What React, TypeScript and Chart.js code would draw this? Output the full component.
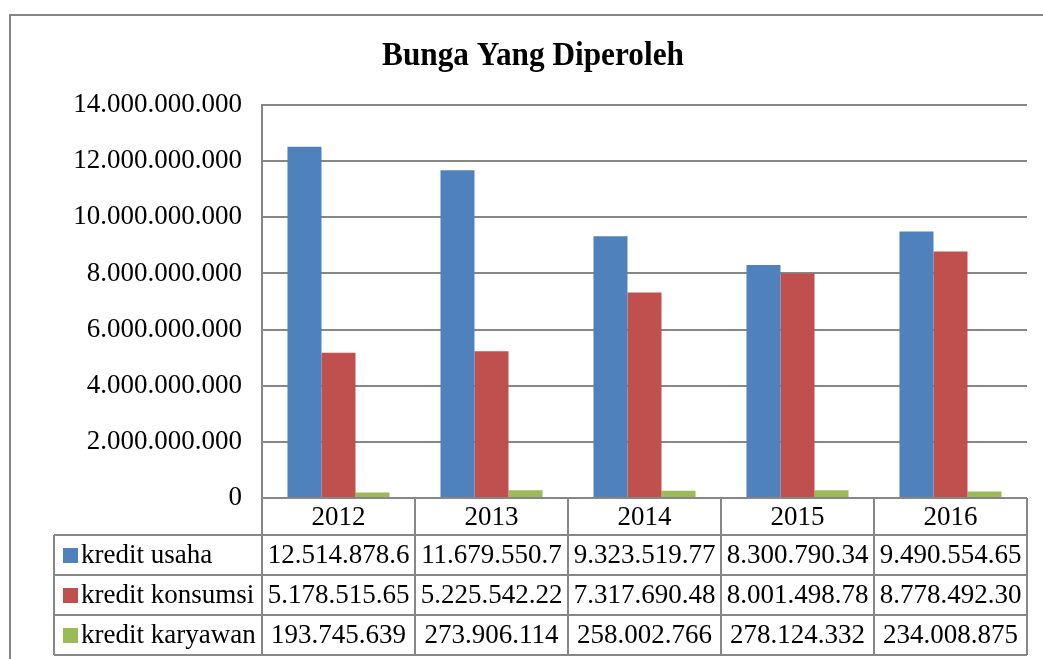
import React, { useEffect, useRef } from "react";
import { Chart, registerables } from "chart.js";

Chart.register(...registerables);

const categories = ["2012", "2013", "2014", "2015", "2016"];
const seriesNames = ["kredit usaha", "kredit konsumsi", "kredit karyawan"];
const seriesColors = ["#4F81BD", "#C0504D", "#9BBB59"];

const kreditUsaha = [12514878600, 11679550700, 9323519770, 8300790340, 9490554650];
const kreditKonsumsi = [5178515650, 5225542220, 7317690480, 8001498780, 8778492300];
const kreditKaryawan = [193745639, 273906114, 258002766, 278124332, 234008875];

const usahaLabels = ["12.514.878.6", "11.679.550.7", "9.323.519.77", "8.300.790.34", "9.490.554.65"];
const konsumsiLabels = ["5.178.515.65", "5.225.542.22", "7.317.690.48", "8.001.498.78", "8.778.492.30"];
const karyawanLabels = ["193.745.639", "273.906.114", "258.002.766", "278.124.332", "234.008.875"];

const yTickLabels = [
  "0",
  "2.000.000.000",
  "4.000.000.000",
  "6.000.000.000",
  "8.000.000.000",
  "10.000.000.000",
  "12.000.000.000",
  "14.000.000.000",
];

const titleText = "Bunga Yang Diperoleh";

const FONT = '"Liberation Serif", "Times New Roman", serif';
const LINE = "#878787";

const framePlugin = {
  id: "frame",
  beforeDraw(chart: any) {
    const ctx = chart.ctx;
    ctx.save();
    ctx.fillStyle = "#ffffff";
    ctx.fillRect(0, 0, chart.width, chart.height);
    ctx.strokeStyle = "#868686";
    ctx.lineWidth = 2;
    ctx.strokeRect(10, 15, chart.width + 40, chart.height + 40);
    ctx.restore();
    ctx.save();
    ctx.fillStyle = "#000";
    ctx.font = "bold 34px " + FONT;
    ctx.textAlign = "center";
    ctx.textBaseline = "alphabetic";
    ctx.translate(533, 65);
    ctx.scale(0.92, 1);
    ctx.fillText(titleText, 0, 0);
    ctx.restore();
  },
};

const tablePlugin = {
  id: "dataTable",
  afterDraw(chart: any) {
    const ctx = chart.ctx;
    const x = chart.scales.x;
    const area = chart.chartArea;
    const n = categories.length;
    const colW = (area.right - area.left) / n;
    const top = area.bottom;
    const headerH = 37;
    const rowH = 40;
    const legendLeft = 54;
    const rows = [usahaLabels, konsumsiLabels, karyawanLabels];
    const bottom = top + headerH + rowH * rows.length;

    ctx.save();
    ctx.strokeStyle = LINE;
    ctx.lineWidth = 2;
    ctx.beginPath();
    ctx.moveTo(area.left, top);
    ctx.lineTo(area.right, top);
    for (let r = 0; r <= rows.length; r++) {
      const y = top + headerH + r * rowH;
      ctx.moveTo(legendLeft, y);
      ctx.lineTo(area.right, y);
    }
    for (let i = 0; i <= n; i++) {
      const cx = i < n ? x.getPixelForValue(i) - colW / 2 : x.getPixelForValue(n - 1) + colW / 2;
      ctx.moveTo(cx, top);
      ctx.lineTo(cx, bottom);
    }
    ctx.moveTo(legendLeft, top + headerH);
    ctx.lineTo(legendLeft, bottom);
    ctx.stroke();

    ctx.fillStyle = "#000";
    ctx.font = "27px " + FONT;
    ctx.textBaseline = "middle";
    ctx.textAlign = "center";
    for (let i = 0; i < n; i++) {
      const cx = x.getPixelForValue(i);
      ctx.fillText(categories[i], cx, top + headerH / 2 + 1);
      for (let r = 0; r < rows.length; r++) {
        ctx.fillText(rows[r][i], cx, top + headerH + r * rowH + rowH / 2 + 1);
      }
    }
    ctx.textAlign = "left";
    for (let r = 0; r < rows.length; r++) {
      const cy = top + headerH + r * rowH + rowH / 2;
      ctx.fillStyle = seriesColors[r];
      ctx.fillRect(63, cy - 7, 15, 15);
      ctx.fillStyle = "#000";
      ctx.fillText(seriesNames[r], 81, cy + 1);
    }
    ctx.restore();
  },
};

export default function App() {
  const canvasRef = useRef<HTMLCanvasElement | null>(null);

  useEffect(() => {
    document.body.style.margin = "0";
    document.body.style.overflow = "hidden";
    const canvas = canvasRef.current;
    if (!canvas) return;
    const chart = new Chart(canvas, {
      type: "bar",
      data: {
        labels: categories,
        datasets: [
          { label: seriesNames[0], data: kreditUsaha, backgroundColor: seriesColors[0] },
          { label: seriesNames[1], data: kreditKonsumsi, backgroundColor: seriesColors[1] },
          { label: seriesNames[2], data: kreditKaryawan, backgroundColor: seriesColors[2] },
        ],
      },
      options: {
        responsive: false,
        animation: false,
        devicePixelRatio: 1,
        layout: { padding: { left: 10, top: 105, right: 16, bottom: 161 } },
        datasets: {
          bar: { barPercentage: 1.0, categoryPercentage: 0.667, borderWidth: 0 },
        },
        plugins: {
          legend: { display: false },
          title: { display: false },
          tooltip: { enabled: false },
        },
        scales: {
          x: {
            display: false,
            offset: true,
          },
          y: {
            min: 0,
            max: 14000000000,
            afterFit(scale: any) {
              scale.width = 252;
            },
            ticks: {
              stepSize: 2000000000,
              color: "#000",
              padding: 20,
              font: { family: FONT, size: 27 },
              callback: (value: any) => yTickLabels[Math.round(Number(value) / 2000000000)],
            },
            grid: {
              color: LINE,
              lineWidth: 2,
              drawTicks: false,
            },
            border: { display: true, color: LINE, width: 2 },
          },
        },
      },
      plugins: [framePlugin, tablePlugin],
    });
    return () => chart.destroy();
  }, []);

  return (
    <div style={{ position: "relative", width: 1043, height: 659 }}>
      <canvas ref={canvasRef} width={1043} height={659} style={{ display: "block" }} />
    </div>
  );
}
